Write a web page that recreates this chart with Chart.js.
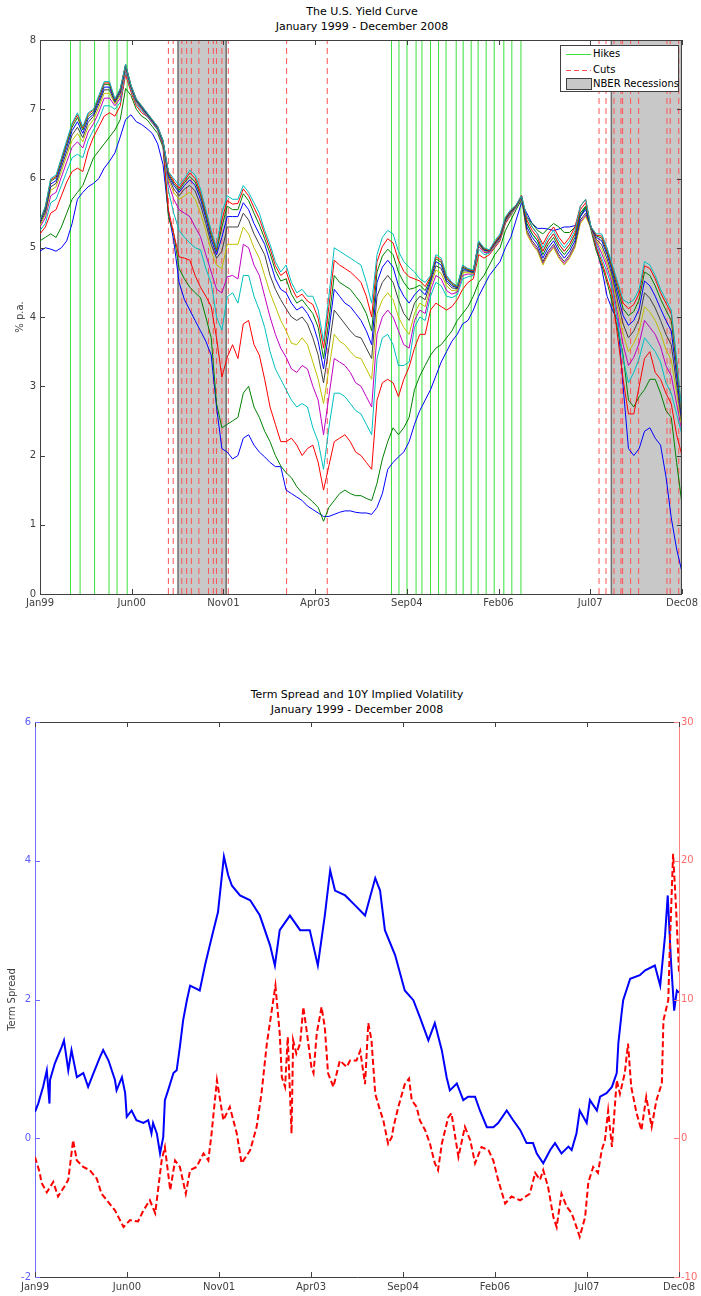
<!DOCTYPE html>
<html>
<head>
<meta charset="utf-8">
<script src="https://cdn.jsdelivr.net/npm/chart.js@4.4.0/dist/chart.umd.min.js"></script>
<style>
  body { margin: 0; background: #fff; width: 701px; height: 1296px; position: relative; overflow: hidden;
         font-family: "DejaVu Sans", sans-serif; }
  canvas { position: absolute; left: 0; }
  #yieldChart { top: 0; }
  #spreadChart { top: 650px; }
  .title { position: absolute; text-align: center; font-size: 11px; line-height: 15px; color: #000; }
  #legend { position: absolute; left: 560px; top: 45px; width: 119px; height: 47px; box-sizing: border-box;
            border: 1px solid #404040; background: #fff; font-size: 10px; color: #000; }
  #legend span { position: absolute; left: 32px; line-height: 12px; white-space: nowrap; }
  #legend svg { position: absolute; left: 0; top: 0; }
</style>
</head>
<body>
<div class="title" style="left:40px;width:644px;top:4px">The U.S. Yield Curve<br>January 1999 - December 2008</div>
<canvas id="yieldChart" width="701" height="620"></canvas>
<div id="legend">
  <svg width="119" height="47">
    <line x1="5" y1="8.5" x2="30" y2="8.5" stroke="rgb(60,225,60)" stroke-width="1"/>
    <line x1="5" y1="24.5" x2="30" y2="24.5" stroke="rgb(255,85,85)" stroke-width="1" stroke-dasharray="5,3"/>
    <rect x="5.5" y="32.5" width="25" height="11" fill="#c8c8c8" stroke="#404040"/>
  </svg>
  <span style="top:2px">Hikes</span>
  <span style="top:18px">Cuts</span>
  <span style="top:32px">NBER Recessions</span>
</div>
<div class="title" style="left:35px;width:644px;top:687px">Term Spread and 10Y Implied Volatility<br>January 1999 - December 2008</div>
<canvas id="spreadChart" width="701" height="646"></canvas>
<script>
// ─── Axis ticks (months since Jan 1999) ─────────────────────
const tickMonths = [0, 17.14, 34.29, 51.43, 68.57, 85.71, 102.86, 120];
const tickLabels = ['Jan99', 'Jun00', 'Nov01', 'Apr03', 'Sep04', 'Feb06', 'Jul07', 'Dec08'];

// ─── Yield curve, monthly, shortest maturity first ──────────
const y01 = [4.95,5.0,4.98,4.95,5.0,5.1,5.35,5.7,5.8,5.88,5.93,6.0,6.15,6.25,6.37,6.6,6.85,6.92,6.82,6.78,6.72,6.65,6.5,6.2,
  5.5,5.1,4.5,4.25,4.1,3.95,3.8,3.65,3.45,2.7,2.1,2.05,
  1.95,2.0,2.25,2.3,2.15,2.05,1.98,1.9,1.84,1.84,1.5,1.45,
  1.4,1.35,1.27,1.22,1.17,1.12,1.12,1.15,1.18,1.2,1.2,1.18,
  1.17,1.17,1.15,1.25,1.45,1.8,1.9,1.98,2.05,2.2,2.45,2.65,
  2.8,2.95,3.15,3.35,3.5,3.65,3.75,3.9,3.95,4.1,4.3,4.45,
  4.6,4.7,4.8,5.0,5.15,5.4,5.65,5.5,5.35,5.28,5.28,5.27,
  5.25,5.27,5.3,5.3,5.32,5.45,5.6,5.3,5.0,4.7,4.3,4.1,
  3.95,3.0,2.1,2.0,2.1,2.35,2.4,2.25,2.15,1.7,1.1,0.65,0.32];
const y02 = [5.1,5.15,5.2,5.15,5.3,5.5,5.7,5.8,5.9,6.1,6.3,6.4,6.5,6.6,6.7,6.85,7.3,7.2,7.0,6.9,6.85,6.75,6.65,6.45,
  5.45,5.2,4.7,4.55,4.43,4.35,4.28,4.0,3.7,2.75,2.4,2.45,
  2.5,2.55,2.9,3.0,2.7,2.55,2.35,2.2,2.0,1.85,1.75,1.68,
  1.55,1.46,1.4,1.33,1.25,1.05,1.25,1.35,1.45,1.5,1.45,1.42,
  1.42,1.38,1.35,1.6,1.95,2.2,2.4,2.3,2.4,2.55,2.95,3.15,
  3.3,3.45,3.55,3.6,3.7,3.8,3.95,4.05,4.15,4.3,4.5,4.6,
  4.75,4.9,5.0,5.25,5.4,5.55,5.69,5.45,5.35,5.25,5.2,5.28,
  5.35,5.3,5.22,5.22,5.3,5.45,5.58,5.25,4.95,4.75,4.5,4.2,
  3.8,3.45,2.8,2.7,2.85,2.95,3.1,3.1,2.9,2.65,2.55,1.9,1.3];
const y03 = [5.2,5.3,5.5,5.55,5.75,5.95,6.1,6.15,6.1,6.4,6.6,6.75,6.9,6.95,6.9,7.05,7.5,7.25,7.05,6.95,6.9,6.8,6.7,6.48,
  5.55,5.2,4.87,4.85,4.82,4.6,4.43,4.3,4.15,3.7,3.13,3.42,
  3.6,3.4,3.9,3.95,3.6,3.45,3.1,2.7,2.45,2.2,2.2,2.25,
  2.15,2.0,2.1,2.15,1.9,1.5,1.85,2.2,2.25,2.3,2.2,2.05,
  2.0,1.9,1.8,2.8,3.05,3.1,3.05,2.85,3.1,3.28,3.55,3.75,
  3.75,4.1,4.2,4.15,4.1,4.15,4.25,4.4,4.5,4.55,4.9,4.85,
  4.9,5.0,5.1,5.35,5.47,5.58,5.72,5.45,5.3,5.2,5.05,5.2,
  5.3,5.15,5.05,5.15,5.3,5.6,5.7,5.28,5.0,4.8,4.55,4.3,
  3.7,3.1,2.6,2.6,3.0,3.4,3.5,3.2,3.1,2.9,2.75,2.3,2.0];
const y04 = [5.25,5.35,5.65,5.7,5.9,6.1,6.3,6.35,6.3,6.55,6.7,6.85,7.05,7.05,7.0,7.1,7.55,7.28,7.08,6.98,6.9,6.8,6.7,6.5,
  5.83,5.5,5.25,5.15,5.07,5.0,4.97,4.7,4.49,4.0,3.81,4.29,
  4.35,4.2,4.6,4.6,4.3,4.1,3.85,3.5,3.25,3.1,2.95,2.8,
  2.7,2.75,2.7,2.4,2.2,1.8,2.4,2.9,2.9,2.85,2.75,2.65,
  2.6,2.45,2.3,3.4,3.7,3.75,3.6,3.3,3.3,3.35,3.85,4.0,
  3.95,4.3,4.5,4.45,4.3,4.28,4.32,4.55,4.58,4.6,4.98,4.9,
  4.92,5.02,5.12,5.37,5.48,5.58,5.73,5.35,5.2,5.1,4.95,5.1,
  5.2,5.05,4.95,5.05,5.2,5.5,5.6,5.28,5.05,4.85,4.65,4.4,
  3.9,3.4,3.05,3.2,3.4,3.7,3.6,3.5,3.35,3.05,2.9,2.6,2.3];
const y05 = [5.3,5.43,5.75,5.8,6.02,6.24,6.45,6.53,6.44,6.67,6.79,6.96,7.16,7.16,7.05,7.16,7.58,7.3,7.1,7.0,6.91,6.81,6.71,6.5,
  5.93,5.7,5.55,5.5,5.45,5.3,5.16,4.9,4.65,4.4,4.35,4.58,
  4.6,4.55,5.05,5.0,4.75,4.6,4.3,4.0,3.75,3.55,3.42,3.25,
  3.2,3.3,3.25,3.0,2.8,2.3,2.85,3.4,3.35,3.3,3.2,3.05,
  3.0,2.85,2.7,3.75,4.0,4.1,4.0,3.8,3.6,3.55,3.95,4.1,
  4.05,4.38,4.6,4.55,4.38,4.33,4.36,4.6,4.62,4.62,5.02,4.93,
  4.93,5.03,5.13,5.38,5.49,5.59,5.73,5.22,5.07,4.97,4.77,4.92,
  5.02,4.87,4.77,4.87,5.02,5.37,5.47,5.28,5.08,4.92,4.72,4.47,
  4.02,3.6,3.3,3.42,3.62,3.95,3.85,3.75,3.57,3.3,3.15,2.75,2.35];
const y06 = [5.32,5.48,5.83,5.88,6.1,6.33,6.55,6.65,6.53,6.75,6.85,7.03,7.23,7.23,7.08,7.2,7.6,7.31,7.11,7.01,6.92,6.82,6.72,6.52,
  5.98,5.8,5.7,5.75,5.8,5.7,5.5,5.25,4.95,4.75,4.7,5.05,
  5.05,5.05,5.3,5.2,5.0,4.85,4.6,4.35,4.15,3.95,3.8,3.62,
  3.6,3.7,3.6,3.35,3.1,2.75,3.25,3.75,3.65,3.6,3.5,3.42,
  3.4,3.25,3.1,4.05,4.25,4.35,4.25,4.0,3.85,3.75,4.05,4.2,
  4.15,4.45,4.68,4.63,4.45,4.38,4.39,4.64,4.64,4.63,5.04,4.95,
  4.94,5.04,5.14,5.39,5.5,5.59,5.74,5.2,5.05,4.95,4.75,4.9,
  5.0,4.85,4.75,4.85,5.0,5.35,5.45,5.28,5.1,4.98,4.78,4.53,
  4.12,3.75,3.5,3.62,3.8,4.15,4.07,3.95,3.77,3.53,3.38,2.9,2.4];
const y07 = [5.35,5.51,5.88,5.93,6.16,6.39,6.63,6.74,6.59,6.81,6.9,7.08,7.28,7.28,7.1,7.23,7.62,7.32,7.12,7.02,6.93,6.83,6.73,6.53,
  6.02,5.85,5.75,5.85,5.9,5.82,5.62,5.35,5.05,4.85,4.95,5.3,
  5.3,5.3,5.5,5.4,5.2,5.05,4.9,4.6,4.4,4.25,4.12,4.0,
  3.95,4.0,3.9,3.7,3.45,3.05,3.55,4.1,4.0,3.9,3.8,3.72,
  3.7,3.55,3.4,4.3,4.5,4.6,4.5,4.25,4.05,3.95,4.2,4.3,
  4.25,4.5,4.74,4.7,4.5,4.42,4.41,4.67,4.66,4.64,5.06,4.96,
  4.95,5.05,5.15,5.4,5.51,5.6,5.74,5.25,5.1,5.0,4.8,4.95,
  5.05,4.9,4.8,4.9,5.05,5.4,5.5,5.29,5.12,5.04,4.84,4.59,
  4.22,3.9,3.7,3.8,3.97,4.35,4.27,4.13,3.95,3.75,3.6,3.03,2.45];
const y08 = [5.37,5.55,5.92,5.97,6.21,6.45,6.69,6.82,6.65,6.86,6.93,7.12,7.32,7.32,7.12,7.26,7.63,7.33,7.13,7.03,6.93,6.83,6.73,6.53,
  6.05,5.9,5.8,5.9,5.98,5.9,5.7,5.43,5.12,4.9,5.15,5.45,
  5.45,5.45,5.65,5.55,5.35,5.2,5.05,4.8,4.55,4.4,4.35,4.2,
  4.1,4.15,4.05,3.9,3.65,3.25,3.8,4.4,4.3,4.2,4.15,4.05,
  3.95,3.8,3.6,4.5,4.72,4.82,4.72,4.45,4.3,4.2,4.32,4.4,
  4.32,4.53,4.8,4.75,4.53,4.45,4.42,4.7,4.67,4.65,5.07,4.97,
  4.95,5.06,5.16,5.41,5.52,5.6,5.75,5.3,5.15,5.05,4.85,5.0,
  5.1,4.95,4.85,4.95,5.1,5.45,5.55,5.29,5.15,5.1,4.9,4.65,
  4.32,4.02,3.88,3.95,4.12,4.52,4.45,4.3,4.12,3.95,3.8,3.15,2.5];
const y09 = [5.38,5.57,5.96,6.01,6.25,6.5,6.74,6.88,6.7,6.9,6.96,7.16,7.36,7.36,7.13,7.28,7.64,7.34,7.14,7.04,6.94,6.84,6.74,6.54,
  6.07,5.93,5.83,5.94,6.03,5.95,5.76,5.48,5.18,4.95,5.3,5.6,
  5.55,5.55,5.78,5.68,5.5,5.33,5.13,4.92,4.67,4.52,4.55,4.33,
  4.2,4.25,4.15,4.05,3.85,3.4,3.95,4.6,4.5,4.45,4.4,4.3,
  4.2,4.05,3.8,4.65,4.88,4.98,4.9,4.65,4.5,4.4,4.42,4.46,
  4.38,4.56,4.84,4.79,4.56,4.47,4.43,4.72,4.68,4.66,5.08,4.98,
  4.96,5.07,5.17,5.42,5.53,5.61,5.75,5.35,5.2,5.1,4.9,5.05,
  5.15,5.0,4.9,5.0,5.15,5.5,5.6,5.3,5.17,5.14,4.94,4.69,
  4.4,4.12,4.02,4.08,4.25,4.65,4.6,4.45,4.26,4.1,3.95,3.27,2.55];
const y10 = [5.39,5.59,5.98,6.03,6.28,6.53,6.78,6.92,6.73,6.93,6.99,7.18,7.38,7.38,7.14,7.29,7.65,7.35,7.15,7.05,6.95,6.85,6.75,6.55,
  6.09,5.96,5.86,5.97,6.08,6.0,5.8,5.52,5.22,4.98,5.4,5.68,
  5.63,5.64,5.85,5.75,5.58,5.42,5.2,4.99,4.74,4.6,4.66,4.43,
  4.28,4.33,4.23,4.18,3.98,3.55,4.15,4.82,4.75,4.7,4.65,4.58,
  4.5,4.3,4.0,4.8,5.02,5.13,5.07,4.82,4.66,4.58,4.55,4.52,
  4.44,4.58,4.87,4.82,4.58,4.49,4.44,4.74,4.69,4.67,5.09,4.99,
  4.96,5.08,5.18,5.43,5.54,5.61,5.76,5.4,5.25,5.15,4.95,5.1,
  5.2,5.05,4.95,5.05,5.2,5.55,5.65,5.3,5.18,5.17,4.97,4.72,
  4.46,4.2,4.12,4.18,4.34,4.74,4.7,4.55,4.35,4.2,4.05,3.35,2.58];
const y11 = [5.4,5.6,6.0,6.05,6.3,6.55,6.8,6.95,6.75,6.95,7.0,7.2,7.4,7.4,7.15,7.3,7.65,7.35,7.15,7.05,6.95,6.85,6.75,6.55,
  6.1,6.0,5.9,6.0,6.12,6.05,5.85,5.55,5.25,5.0,5.5,5.75,
  5.7,5.7,5.9,5.8,5.65,5.5,5.25,5.05,4.8,4.65,4.75,4.5,
  4.35,4.4,4.3,4.3,4.1,3.65,4.3,5.0,4.95,4.9,4.85,4.8,
  4.75,4.5,4.2,4.9,5.15,5.25,5.2,4.95,4.8,4.72,4.65,4.55,
  4.5,4.6,4.9,4.85,4.6,4.5,4.45,4.75,4.7,4.68,5.1,5.0,
  4.97,5.1,5.2,5.45,5.55,5.62,5.75,5.45,5.3,5.2,5.0,5.15,
  5.25,5.1,5.0,5.1,5.25,5.6,5.7,5.3,5.2,5.2,5.0,4.75,
  4.5,4.25,4.2,4.25,4.4,4.8,4.75,4.6,4.4,4.25,4.1,3.4,2.6];

// ─── Fed moves and NBER recessions (months since Jan 1999) ──
const hikeMonths = [5.7, 7.5, 10.2, 12.9, 14.4, 16.3,
  65.7, 67.1, 68.6, 70.3, 71.4, 73.0, 74.5, 75.9, 77.8, 79.1, 80.6, 81.9, 83.4, 84.9, 86.7, 88.2, 89.9];
const cutMonths = [24.0, 24.9, 26.5, 27.4, 28.3, 29.7, 31.5, 32.4, 33.0, 34.0, 35.2, 46.1, 53.7,
  104.5, 105.8, 107.3, 108.6, 108.9, 110.4, 111.9, 117.2, 117.8, 119.4];
const recessionStart = [25.8, 106.8];
const recessionEnd = [34.8, 120];

// ─── Term spread and 10Y implied volatility ─────────────────
const spreadMonths = [0.0,0.6,1.5,2.2,2.7,2.8,3.7,5.0,5.4,6.2,6.8,7.8,9.0,9.9,10.9,12.1,12.7,13.7,14.9,15.2,
  16.2,16.8,17.1,18.0,18.9,20.2,21.1,21.7,22.0,22.7,23.3,23.9,24.2,24.8,25.8,26.4,27.0,27.6,28.3,28.9,
  30.7,31.7,33.0,34.1,35.2,36.0,36.7,38.2,40.1,41.9,43.8,44.7,45.6,47.5,49.4,51.2,52.7,54.0,55.0,55.9,
  57.8,59.6,61.5,63.4,64.3,65.2,67.1,68.9,70.5,71.7,73.3,74.5,75.8,76.7,77.3,78.6,79.8,80.7,82.0,82.9,
  84.2,85.4,86.3,87.9,89.1,90.4,91.6,92.8,93.5,94.7,96.0,96.9,98.1,99.4,100.0,100.9,101.5,102.8,103.4,104.7,
  105.3,106.5,107.5,108.4,108.7,109.3,109.6,110.9,112.7,113.7,115.5,116.5,117.4,117.9,118.5,119.1,119.6,120.0];
const spreadValues = [0.38,0.5,0.74,0.98,0.5,0.84,1.08,1.32,1.41,0.98,1.27,0.88,0.94,0.74,0.94,1.17,1.27,1.12,0.84,0.69,
  0.88,0.65,0.31,0.4,0.26,0.22,0.26,0.07,0.22,0.07,-0.22,0.02,0.55,0.69,0.94,0.98,1.32,1.7,1.99,2.2,
  2.13,2.5,2.92,3.26,4.06,3.79,3.64,3.5,3.43,3.21,2.78,2.49,3.0,3.21,3.0,3.0,2.49,3.21,3.86,3.57,
  3.5,3.36,3.21,3.75,3.57,3.0,2.64,2.13,1.99,1.75,1.41,1.66,1.27,0.88,0.69,0.79,0.55,0.6,0.6,0.4,
  0.16,0.16,0.22,0.4,0.26,0.12,-0.07,-0.07,-0.22,-0.36,-0.17,-0.07,-0.22,-0.12,-0.17,0.07,0.4,0.22,0.55,0.4,
  0.6,0.65,0.74,0.94,1.37,1.8,1.99,2.3,2.35,2.42,2.49,2.2,2.92,3.5,2.56,1.84,2.13,2.1];
const volMonths = [0.0,0.9,1.2,2.2,3.4,4.3,5.6,6.2,7.1,7.8,9.0,10.2,11.5,12.4,13.4,14.9,16.5,17.7,19.2,20.2,
  21.4,22.4,23.0,23.6,24.2,25.2,26.1,27.0,28.1,28.9,30.1,31.4,32.3,32.9,33.9,34.5,35.1,36.3,37.6,38.5,
  40.1,41.3,42.2,43.2,44.4,44.8,45.6,46.0,46.6,47.1,47.8,48.1,48.7,49.4,50.0,50.6,51.5,51.9,52.5,53.4,
  54.0,54.6,55.6,56.8,58.1,58.7,59.9,60.6,61.5,62.1,62.7,63.4,64.3,64.9,65.8,66.5,66.8,67.7,68.9,69.7,
  70.2,71.1,71.7,72.7,73.6,74.5,75.1,75.8,77.0,77.6,78.9,80.1,81.1,82.0,83.2,84.5,85.4,86.3,87.6,88.8,
  90.4,92.2,93.2,94.1,94.7,95.6,96.6,97.2,98.1,99.1,100.0,100.9,101.5,102.5,103.1,104.0,104.9,105.6,106.2,106.8,
  107.5,108.4,109.0,109.9,110.5,111.1,112.1,113.0,113.9,114.9,115.8,116.8,117.1,118.0,118.3,118.9,119.4,120.0];
const volValues = [-1.35,-2.5,-3.2,-3.9,-3.15,-4.2,-3.4,-3.0,-0.14,-1.6,-2.07,-2.3,-2.9,-4.0,-4.47,-5.2,-6.4,-5.9,-6.0,-5.2,
  -4.47,-5.4,-3.5,-1.6,-0.63,-3.75,-1.6,-2.07,-4.0,-2.3,-2.07,-1.1,-1.6,0.34,4.18,2.74,1.3,2.26,0.34,-1.8,
  -0.86,0.82,3.22,6.82,9.95,11.0,7.56,4.4,3.7,7.3,0.34,7.06,6.1,6.82,9.46,7.8,5.14,4.7,7.56,9.46,
  8.0,4.7,3.7,5.6,5.14,5.6,5.6,6.3,3.9,8.3,7.06,3.2,2.0,1.3,-0.4,0.1,0.82,2.26,3.9,4.3,
  2.74,2.26,1.3,0.58,-0.4,-1.8,-2.3,-0.4,1.5,1.8,-1.35,0.82,-0.14,-1.8,-0.63,-0.86,-1.6,-3.0,-4.7,-4.2,
  -4.47,-4.0,-2.5,-3.0,-2.3,-3.5,-5.7,-6.4,-4.0,-4.95,-5.4,-6.4,-7.1,-5.7,-3.2,-2.07,-2.5,-0.86,-0.14,2.0,
  -0.63,4.18,3.2,4.7,6.82,3.7,1.8,0.58,2.98,0.82,2.74,3.96,8.5,9.95,14,20.5,17,12];

// ─── Shared look ────────────────────────────────────────────
Chart.defaults.font.family = '"DejaVu Sans", sans-serif';
Chart.defaults.font.size = 10;
Chart.defaults.color = '#404040';
Chart.defaults.animation = false;

const months = Array.from({ length: 121 }, (_, i) => i);
const yieldSeries = [y01, y02, y03, y04, y05, y06, y07, y08, y09, y10, y11];
const yieldColors = ['#0000ff', '#008000', '#ff0000', '#00bfbf', '#bf00bf', '#bfbf00', '#404040',
                     '#0000ff', '#008000', '#ff0000', '#00bfbf'];

function vLines(list, top) {
  const pts = [];
  list.forEach(m => pts.push({ x: m, y: 0 }, { x: m, y: top }, { x: m, y: null }));
  return pts;
}

function monthAxis(height, pad) {
  return {
    type: 'linear', min: 0, max: 120,
    afterBuildTicks: s => { s.ticks = tickMonths.map(v => ({ value: v })); },
    afterFit: s => { s.height = height; },
    ticks: { callback: (v, i) => tickLabels[i], maxRotation: 0, autoSkip: false, padding: pad, color: '#404040' },
    grid: { display: false, drawTicks: false },
    border: { color: '#404040' }
  };
}

// inward pointing ticks, as in the original figure
function tickLine(ctx, x1, y1, x2, y2) { ctx.moveTo(x1, y1); ctx.lineTo(x2, y2); }

const yieldFrame = {
  id: 'yieldFrame',
  afterDraw(chart) {
    const { ctx, chartArea: a, scales: { x, y } } = chart;
    ctx.save();
    ctx.lineWidth = 1;
    ctx.strokeStyle = '#404040';
    ctx.beginPath();
    tickLine(ctx, a.left, a.top + 0.5, a.right, a.top + 0.5);
    tickLine(ctx, a.right - 0.5, a.top, a.right - 0.5, a.bottom);
    x.ticks.forEach(t => {
      const p = Math.round(x.getPixelForValue(t.value)) + 0.5;
      tickLine(ctx, p, a.bottom, p, a.bottom - 5);
      tickLine(ctx, p, a.top, p, a.top + 5);
    });
    y.ticks.forEach(t => {
      const p = Math.round(y.getPixelForValue(t.value)) + 0.5;
      tickLine(ctx, a.left, p, a.left + 5, p);
      tickLine(ctx, a.right, p, a.right - 5, p);
    });
    ctx.stroke();
    ctx.restore();
  }
};

const spreadFrame = {
  id: 'spreadFrame',
  afterDraw(chart) {
    const { ctx, chartArea: a, scales: { x, yS, yV } } = chart;
    ctx.save();
    ctx.lineWidth = 1;
    ctx.strokeStyle = '#404040';
    ctx.beginPath();
    tickLine(ctx, a.left, a.top + 0.5, a.right, a.top + 0.5);
    x.ticks.forEach(t => {
      const p = Math.round(x.getPixelForValue(t.value)) + 0.5;
      tickLine(ctx, p, a.bottom, p, a.bottom - 5);
      tickLine(ctx, p, a.top, p, a.top + 5);
    });
    ctx.stroke();
    ctx.strokeStyle = '#6f6fff';
    ctx.beginPath();
    yS.ticks.forEach(t => {
      const p = Math.round(yS.getPixelForValue(t.value)) + 0.5;
      tickLine(ctx, a.left, p, a.left + 5, p);
    });
    ctx.stroke();
    ctx.strokeStyle = '#ff8080';
    ctx.beginPath();
    yV.ticks.forEach(t => {
      const p = Math.round(yV.getPixelForValue(t.value)) + 0.5;
      tickLine(ctx, a.right, p, a.right - 5, p);
    });
    ctx.stroke();
    ctx.restore();
  }
};

// ─── Chart 1: yield curve ───────────────────────────────────
const yieldSets = yieldSeries.map((s, i) => ({
  label: 'Yield ' + (i + 1),
  data: s.map((v, j) => ({ x: months[j], y: v })),
  borderColor: yieldColors[i],
  borderWidth: 1,
  pointRadius: 0,
  order: 11 - i
}));

const recessionSets = recessionStart.map((s, i) => ({
  label: i === 0 ? 'NBER Recessions' : '',
  data: [{ x: s, y: 0 }, { x: s, y: 8 }, { x: recessionEnd[i], y: 8 }, { x: recessionEnd[i], y: 0 }],
  borderColor: '#6e6e6e',
  borderWidth: 1.5,
  backgroundColor: '#c8c8c8',
  fill: 'origin',
  pointRadius: 0,
  order: 40
}));

new Chart(document.getElementById('yieldChart'), {
  type: 'line',
  data: {
    datasets: [
      ...recessionSets,
      { label: 'Hikes', data: vLines(hikeMonths, 8), borderColor: 'rgb(60,225,60)', borderWidth: 1,
        pointRadius: 0, spanGaps: false, order: 30 },
      { label: 'Cuts', data: vLines(cutMonths, 8), borderColor: 'rgb(255,85,85)', borderWidth: 1,
        borderDash: [6, 4], pointRadius: 0, spanGaps: false, order: 30 },
      ...yieldSets
    ]
  },
  options: {
    responsive: false,
    devicePixelRatio: 1,
    layout: { padding: { top: 40, right: 17, bottom: 0, left: 0 } },
    plugins: { legend: { display: false }, tooltip: { enabled: false } },
    scales: {
      x: monthAxis(26, 3),
      y: {
        min: 0, max: 8,
        afterFit: s => { s.width = 40; },
        ticks: { stepSize: 1, padding: 4, color: '#404040' },
        grid: { display: false, drawTicks: false },
        border: { color: '#404040' },
        title: { display: true, text: '% p.a.', color: '#404040', font: { size: 10 }, padding: { top: 14, bottom: 0 } }
      }
    }
  },
  plugins: [yieldFrame]
});

// ─── Chart 2: term spread vs implied vol ────────────────────
new Chart(document.getElementById('spreadChart'), {
  type: 'line',
  data: {
    datasets: [
      { label: 'Term Spread', data: spreadValues.map((v, i) => ({ x: spreadMonths[i], y: v })),
        yAxisID: 'yS', borderColor: '#0000ff', borderWidth: 2, pointRadius: 0, order: 2 },
      { label: '10Y Implied Volatility', data: volValues.map((v, i) => ({ x: volMonths[i], y: v })),
        yAxisID: 'yV', borderColor: '#ff0000', borderWidth: 2, borderDash: [6, 3], pointRadius: 0, order: 1 }
    ]
  },
  options: {
    responsive: false,
    devicePixelRatio: 1,
    layout: { padding: { top: 72, right: 0, bottom: 0, left: 0 } },
    plugins: { legend: { display: false }, tooltip: { enabled: false } },
    scales: {
      x: monthAxis(19, 4),
      yS: {
        position: 'left', min: -2, max: 6,
        afterFit: s => { s.width = 35; },
        ticks: { stepSize: 2, padding: 4, color: '#5a5aff' },
        grid: { display: false, drawTicks: false },
        border: { color: '#6f6fff' },
        title: { display: true, text: 'Term Spread', color: '#404040', font: { size: 10 }, padding: { top: 6, bottom: 0 } }
      },
      yV: {
        position: 'right', min: -10, max: 30,
        afterFit: s => { s.width = 22; },
        ticks: { stepSize: 10, padding: 2, color: '#ff6a6a' },
        grid: { display: false, drawTicks: false },
        border: { color: '#ff8080' }
      }
    }
  },
  plugins: [spreadFrame]
});
</script>
</body>
</html>
